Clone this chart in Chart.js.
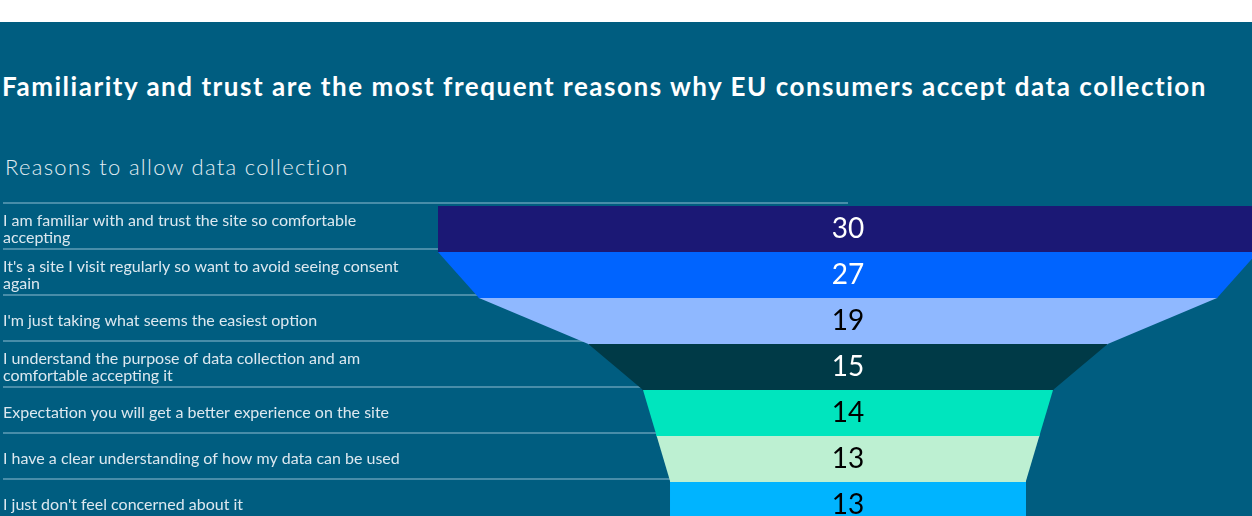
<!DOCTYPE html>
<html>
<head>
<meta charset="utf-8">
<script src="https://cdn.jsdelivr.net/npm/chart.js@4"></script>
<style>
  body { margin: 0; background: #fff; width: 1252px; height: 516px; overflow: hidden; font-family: 'Lato', sans-serif; }
  #panel { position: absolute; left: 0; top: 22px; width: 1252px; height: 560px; background: #005d80; }
  #title { position: absolute; left: 2px; top: 49px; margin: 0; font-size: 26px; font-weight: 700; letter-spacing: 1.52px; color: #fff; line-height: 30px; white-space: nowrap; }
  #subtitle { position: absolute; left: 5px; top: 131px; font-size: 22px; font-weight: 300; letter-spacing: 1.3px; color: #e3edf3; line-height: 28px; white-space: nowrap; }
  #chartBox { position: absolute; left: 0; top: 168px; width: 1252px; height: 358px; }
</style>
</head>
<body>
<div id="panel">
  <h1 id="title">Familiarity and trust are the most frequent reasons why EU consumers accept data collection</h1>
  <div id="subtitle">Reasons to allow data collection</div>
  <div id="chartBox"><canvas id="funnelChart"></canvas></div>
</div>
<script>
// Chart data
const categories = [
    'I am familiar with and trust the site so comfortable accepting',
    "It's a site I visit regularly so want to avoid seeing consent again",
    "I'm just taking what seems the easiest option",
    'I understand the purpose of data collection and am comfortable accepting it',
    'Expectation you will get a better experience on the site',
    'I have a clear understanding of how my data can be used',
    "I just don't feel concerned about it"
];
const values = [30, 27, 19, 15, 14, 13, 13];

// Styles
const fillColors = ['#1b1875', '#0064ff', '#8fb8ff', '#003a47', '#00e5be', '#bdf0d2', '#00b4ff'];
const valueColors = ['#ffffff', '#ffffff', '#000000', '#ffffff', '#000000', '#000000', '#000000'];
const labelFont = '16px Lato';
const lineColor = 'rgba(160, 200, 220, 0.45)';

// Word wrap for the category labels
const measureCtx = document.createElement('canvas').getContext('2d');
function wrapLabel(text, maxWidth) {
    measureCtx.font = labelFont;
    const words = text.split(' ');
    const lines = [];
    let line = '';
    words.forEach(word => {
        const test = line ? line + ' ' + word : word;
        if (measureCtx.measureText(test).width > maxWidth && line) {
            lines.push(line);
            line = word;
        } else {
            line = test;
        }
    });
    if (line) lines.push(line);
    return lines;
}

// Draws the funnel segments, separators and value labels
const funnelPlugin = {
    id: 'funnel',
    beforeDatasetsDraw(chart) {
        const ctx = chart.ctx;
        const xScale = chart.scales.x;
        const meta = chart.getDatasetMeta(0);
        ctx.save();
        ctx.strokeStyle = lineColor;
        ctx.lineWidth = 2;
        meta.data.forEach(bar => {
            const top = bar.y - bar.height / 2 - 3;
            ctx.beginPath();
            ctx.moveTo(3, top);
            ctx.lineTo(xScale.getPixelForValue(0), top);
            ctx.stroke();
        });
        ctx.restore();
    },
    afterDatasetsDraw(chart) {
        const ctx = chart.ctx;
        const xScale = chart.scales.x;
        const meta = chart.getDatasetMeta(0);
        ctx.save();
        meta.data.forEach((bar, i) => {
            const prev = i === 0 ? values[0] : values[i - 1];
            const cur = values[i];
            const top = bar.y - bar.height / 2;
            const bottom = bar.y + bar.height / 2;
            ctx.fillStyle = fillColors[i];
            ctx.beginPath();
            ctx.moveTo(xScale.getPixelForValue(-prev / 2), top);
            ctx.lineTo(xScale.getPixelForValue(prev / 2), top);
            ctx.lineTo(xScale.getPixelForValue(cur / 2), bottom);
            ctx.lineTo(xScale.getPixelForValue(-cur / 2), bottom);
            ctx.closePath();
            ctx.fill();

            ctx.fillStyle = valueColors[i];
            ctx.font = '28px Lato';
            ctx.textAlign = 'center';
            ctx.textBaseline = 'middle';
            ctx.fillText(String(cur), xScale.getPixelForValue(0), bar.y);
        });
        ctx.restore();
    }
};

new Chart(document.getElementById('funnelChart'), {
    type: 'bar',
    data: {
        labels: categories,
        datasets: [{
            data: values.map(v => [-v / 2, v / 2]),
            backgroundColor: fillColors,
            barPercentage: 1,
            categoryPercentage: 1
        }]
    },
    options: {
        indexAxis: 'y',
        responsive: true,
        maintainAspectRatio: false,
        animation: false,
        layout: { padding: { top: 16, bottom: 0, left: 3, right: 0 } },
        plugins: {
            legend: { display: false },
            tooltip: { enabled: false }
        },
        scales: {
            x: {
                type: 'linear',
                min: -15,
                max: 14.78,
                display: false
            },
            y: {
                grid: { display: false },
                border: { display: false },
                afterFit: function(scale) {
                    scale.width = 435;
                },
                ticks: {
                    crossAlign: 'far',
                    color: '#dce8ef',
                    font: { family: 'Lato', size: 16, lineHeight: 1.06 },
                    callback: function(value) {
                        return wrapLabel(this.getLabelForValue(value), 410);
                    }
                }
            }
        }
    },
    plugins: [funnelPlugin]
});
</script>
</body>
</html>
